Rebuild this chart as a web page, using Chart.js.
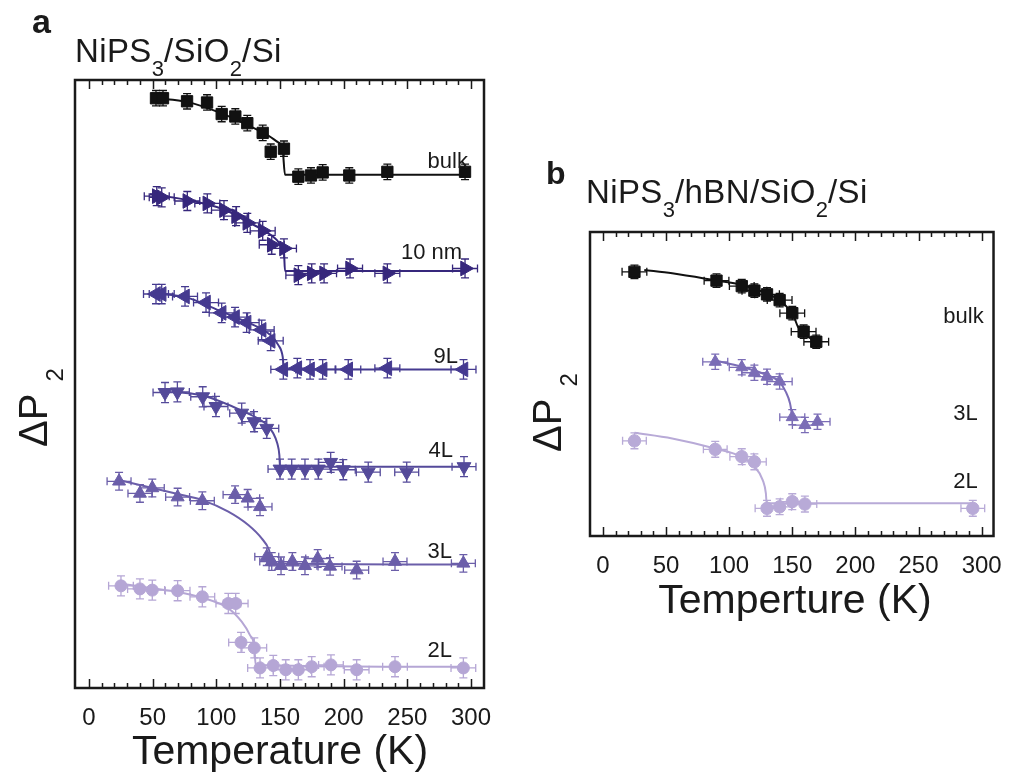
<!DOCTYPE html>
<html lang="en">
<head>
<meta charset="UTF-8">
<title>NiPS3 ΔP2 vs temperature</title>
<script src="https://cdn.jsdelivr.net/npm/chart.js"></script>
<style>
  body {
    margin: 0;
    width: 1010px;
    height: 776px;
    position: relative;
    overflow: hidden;
    background: #fff;
    font-family: Arial, "Liberation Sans", sans-serif;
    color: #1a1a1a;
  }
  .box { position: absolute; top: 0; width: 500px; height: 776px; }
  .txt { position: absolute; line-height: 1; white-space: nowrap; }
  .letter { font-weight: bold; }
  .title { font-size: 33px; letter-spacing: 0.4px; }
  .title span { font-size: 22px; position: relative; top: 14px; letter-spacing: 0; }
  .axis { font-size: 41px; transform: translateX(-50%); }
  .ylab { font-size: 40px; transform-origin: 0 0; transform: rotate(-90deg); }
  .ylab span { font-size: 24px; position: relative; top: 16px; margin-left: 12px; }
</style>
</head>
<body>
<div class="box" style="left:0"><canvas id="chartA"></canvas></div>
<div class="box" style="left:510px"><canvas id="chartB"></canvas></div>

<div class="txt letter" style="left:32px; top:4px; font-size:34px;">a</div>
<div class="txt title" style="left:75px; top:34px;">NiPS<span>3</span>/SiO<span>2</span>/Si</div>
<div class="txt axis" style="left:280px; top:730px;">Temperature (K)</div>
<div class="txt ylab" style="left:13px; top:447px;">ΔP<span>2</span></div>

<div class="txt letter" style="left:546px; top:157px; font-size:32px;">b</div>
<div class="txt title" style="left:586px; top:175px;">NiPS<span>3</span>/hBN/SiO<span>2</span>/Si</div>
<div class="txt axis" style="left:795px; top:579px;">Temperture (K)</div>
<div class="txt ylab" style="left:527px; top:452px;">ΔP<span>2</span></div>

<script>
// shared temperature axis
const xTicks = [0, 50, 100, 150, 200, 250, 300];

// ---- panel a : NiPS3 / SiO2 / Si  (T in K, ΔP2 in arb. units) ----
const aBulkT = [52.6, 58.1, 77, 92.7, 104.2, 114.9, 124.3, 136.4, 142.7, 153.1, 164.4, 174.3, 183.5, 204.4, 234.3, 295.3];
const aBulkP = [97.0, 97.0, 96.5, 96.3, 94.4, 94.0, 92.9, 91.3, 88.2, 88.7, 84.1, 84.3, 84.8, 84.3, 84.9, 84.9];
const aBulkFitT = [52.6, 77.0, 104.2, 124.3, 139.6, 147.4, 152.1, 153.9, 295.3];
const aBulkFitP = [97.0, 96.4, 94.5, 92.6, 91.0, 89.9, 88.5, 84.4, 84.4];

const a10nmT = [53.2, 57.1, 77.2, 92.9, 106, 115.5, 124.3, 136.4, 143.5, 153.1, 164.4, 174.9, 184.6, 205, 234.3, 295.3];
const a10nmP = [80.9, 80.7, 80.1, 79.7, 78.6, 77.6, 76.5, 75.2, 72.9, 72.3, 67.9, 68.2, 68.2, 69.0, 68.2, 69.0];
const a10nmFitT = [47.9, 77.2, 106.0, 124.3, 136.9, 147.4, 152.1, 153.1, 153.9, 295.3];
const a10nmFitP = [81.25, 80.26, 78.7, 76.7, 75.3, 73.7, 72.3, 71.8, 68.6, 68.6];

const a9LT = [52.6, 57.1, 75.4, 91.9, 104.2, 114.7, 123.8, 135.6, 142.7, 152.6, 163.6, 173.6, 183.5, 203.6, 234.3, 294.1];
const a9LP = [64.8, 64.8, 64.4, 63.4, 61.7, 61.0, 60.1, 58.9, 57.1, 52.4, 52.6, 52.4, 52.4, 52.4, 52.6, 52.4];
const a9LFitT = [47.9, 75.4, 104.2, 123.9, 142.2, 148.7, 152.1, 153.1, 294.0];
const a9LFitP = [64.9, 64.3, 61.9, 60.2, 58.1, 56.4, 54.5, 52.4, 52.4];

const a4LT = [59.7, 69.4, 89.3, 99.7, 119.9, 129.6, 139.6, 150, 159.2, 169.6, 180.1, 189.8, 199.7, 219.3, 249.5, 294.5];
const a4LP = [48.6, 48.7, 47.9, 46.3, 45.2, 43.8, 42.7, 36.0, 36.0, 36.0, 36.0, 37.1, 35.9, 35.5, 35.5, 36.4];
const a4LFitT = [69.3, 89.3, 119.9, 139.6, 144.7, 147.9, 149.5, 150.0, 294.5];
const a4LFitP = [48.7, 48.1, 45.6, 43.3, 41.9, 40.2, 38.3, 36.4, 36.4];

const a3LT = [23.6, 40.0, 49.7, 69.6, 89.0, 114.7, 124.6, 134.3, 139.6, 143.5, 150.8, 159.7, 169.6, 179.6, 189.3, 210.2, 240.3, 294.0];
const a3LP = [34.0, 32.0, 32.9, 31.4, 30.8, 31.8, 31.2, 29.8, 21.6, 20.8, 20.1, 20.8, 20.1, 21.3, 20.0, 19.4, 20.8, 20.5];
const a3LFitT = [23.6, 69.7, 89.0, 109.4, 125.1, 135.6, 141.4, 144.0, 294.0];
const a3LFitP = [34.2, 31.9, 30.9, 29.0, 26.8, 24.6, 22.7, 20.5, 20.3];

const a2LT = [25.1, 40, 49.7, 69.6, 89, 109.4, 115.2, 119.4, 129.8, 134.3, 144.7, 154.5, 164.4, 174.9, 190, 210.2, 240.3, 294];
const a2LP = [16.8, 16.3, 16.1, 16.0, 15.0, 13.9, 13.9, 7.5, 6.6, 3.3, 3.7, 3.0, 3.0, 3.5, 3.8, 3.0, 3.5, 3.3];
const a2LFitT = [23.6, 49.7, 69.7, 89.0, 109.4, 119.9, 126.4, 129.8, 130.9, 294.0];
const a2LFitP = [17.2, 16.4, 15.8, 14.85, 13.1, 10.9, 8.7, 6.8, 3.8, 3.5];

// error bar half widths per series: bulk, 10 nm, 9L, 4L, 3L, 2L
const aErrT = [3, 9.8, 9.8, 9.4, 9.4, 9.7];
const aErrP = [1.27, 1.56, 1.6, 1.65, 1.45, 1.65];

const aLabels = ['bulk', '10 nm', '9L', '4L', '3L', '2L'];
const aLabelT = [297.6, 293, 289.8, 285.9, 285.1, 285.1];
const aLabelP = [85.5, 70.6, 53.5, 38.0, 21.4, 5.1];

// ---- panel b : NiPS3 / hBN / SiO2 / Si ----
const bBulkT = [25, 90, 110, 120, 130, 140, 150, 159, 169];
const bBulkP = [86.9, 84.0, 82.2, 80.7, 79.5, 77.6, 73.3, 67.2, 63.9];
const bBulkFitT = [32.8, 54.9, 90.1, 109.6, 129.7, 139.6, 146.1, 151.3, 154.5, 158.6, 169.0];
const bBulkFitP = [87.5, 86.4, 84.0, 82.6, 79.8, 77.6, 75.2, 72.1, 68.8, 66.7, 63.9];

const b3LT = [89, 110, 120, 130, 140, 150, 160, 170];
const b3LP = [57.3, 55.5, 53.7, 52.4, 50.8, 39.1, 36.5, 37.6];
const b3LFitT = [88.8, 109.6, 129.7, 139.6, 144.8, 148.2, 150.0];
const b3LFitP = [57.7, 55.7, 53.0, 50.8, 47.5, 43.7, 39.2];

const b2LT = [25, 89, 110, 120, 130, 140, 150, 160, 293];
const b2LP = [31.3, 28.5, 26.1, 24.4, 9.1, 9.6, 11.3, 10.5, 9.1];
const b2LFitT = [25, 54.9, 88.8, 109.6, 120.1, 126.6, 129.1, 129.7, 293];
const b2LFitP = [34.0, 32.1, 28.8, 26.1, 22.8, 18.4, 14.0, 10.8, 10.8];

// bulk, 3L, 2L
const bErrT = [9.8, 9.9, 9.4];
const bErrP = [2.2, 2.5, 2.6];

const bLabels = ['bulk', '3L', '2L'];
const bLabelT = [301.6, 296.9, 296.9];
const bLabelP = [70.1, 38.2, 15.8];

// colours per layer thickness
const cBulk = '#111111';
const c10nm = '#36277c';
const c9L = '#453a90';
const c4L = '#544a9a';
const c3L = '#6b5ea9';
const c2L = '#b5a6d5';
const c3Lb = '#7b6db6';
const c2Lb = '#b8aad7';

function points(T, P, color, style, rot, radius, eT, eP) {
  return {
    data: T.map((t, i) => ({ x: t, y: P[i] })),
    showLine: false,
    pointStyle: style,
    pointRotation: rot,
    pointRadius: radius,
    pointBackgroundColor: color,
    pointBorderColor: color,
    pointBorderWidth: 1,
    errColor: color,
    errT: eT,
    errP: eP,
    order: 0
  };
}

function fit(T, P, color) {
  return {
    data: T.map((t, i) => ({ x: t, y: P[i] })),
    showLine: true,
    borderColor: color,
    borderWidth: 2,
    pointRadius: 0,
    cubicInterpolationMode: 'monotone',
    order: 1
  };
}

// error bars under the markers, box frame, inward ticks and curve labels
const panelDecor = {
  id: 'panelDecor',
  beforeDatasetsDraw(chart) {
    const ctx = chart.ctx;
    const xs = chart.scales.x, ys = chart.scales.y;
    ctx.save();
    ctx.lineWidth = 1.3;
    chart.data.datasets.forEach(ds => {
      if (ds.errT === undefined) return;
      ctx.strokeStyle = ds.errColor;
      ds.data.forEach(p => {
        const cx = xs.getPixelForValue(p.x), cy = ys.getPixelForValue(p.y);
        const x0 = xs.getPixelForValue(p.x - ds.errT), x1 = xs.getPixelForValue(p.x + ds.errT);
        const y0 = ys.getPixelForValue(p.y - ds.errP), y1 = ys.getPixelForValue(p.y + ds.errP);
        ctx.beginPath();
        ctx.moveTo(x0, cy); ctx.lineTo(x1, cy);
        ctx.moveTo(x0, cy - 4); ctx.lineTo(x0, cy + 4);
        ctx.moveTo(x1, cy - 4); ctx.lineTo(x1, cy + 4);
        ctx.moveTo(cx, y0); ctx.lineTo(cx, y1);
        ctx.moveTo(cx - 4, y0); ctx.lineTo(cx + 4, y0);
        ctx.moveTo(cx - 4, y1); ctx.lineTo(cx + 4, y1);
        ctx.stroke();
      });
    });
    ctx.restore();
  },
  afterDatasetsDraw(chart, args, opts) {
    const ctx = chart.ctx;
    const a = chart.chartArea;
    const xs = chart.scales.x, ys = chart.scales.y;
    ctx.save();
    ctx.strokeStyle = '#1a1a1a';
    ctx.lineWidth = 1.5;
    ctx.beginPath();
    for (let v = xTicks[0]; v <= xTicks[xTicks.length - 1]; v += 10) {
      const px = Math.round(xs.getPixelForValue(v)) + 0.5;
      const len = v % 50 === 0 ? 9 : 5;
      ctx.moveTo(px, a.bottom); ctx.lineTo(px, a.bottom - len);
      ctx.moveTo(px, a.top); ctx.lineTo(px, a.top + len);
    }
    ctx.stroke();
    ctx.lineWidth = 2.5;
    ctx.strokeRect(a.left, a.top, a.right - a.left, a.bottom - a.top);

    ctx.fillStyle = '#1a1a1a';
    ctx.font = '22px Arial, "Liberation Sans", sans-serif';
    ctx.textAlign = 'right';
    ctx.textBaseline = 'alphabetic';
    opts.labels.forEach((s, i) => {
      ctx.fillText(s, xs.getPixelForValue(opts.labelT[i]), ys.getPixelForValue(opts.labelP[i]));
    });
    ctx.restore();
  }
};

function panel(id, datasets, xMin, xMax, pad, axisHeight, labels, labelT, labelP) {
  return new Chart(document.getElementById(id), {
    type: 'scatter',
    data: { datasets },
    options: {
      responsive: true,
      maintainAspectRatio: false,
      animation: false,
      events: [],
      layout: { padding: pad },
      plugins: {
        legend: { display: false },
        tooltip: { enabled: false },
        panelDecor: { labels, labelT, labelP }
      },
      scales: {
        x: {
          type: 'linear',
          min: xMin,
          max: xMax,
          afterBuildTicks: s => { s.ticks = xTicks.map(v => ({ value: v })); },
          afterFit: s => { s.height = axisHeight; },
          grid: { display: false },
          border: { display: false },
          ticks: {
            autoSkip: false,
            maxRotation: 0,
            padding: 8,
            color: '#1a1a1a',
            font: { family: 'Arial, "Liberation Sans", sans-serif', size: 24 }
          }
        },
        y: { display: false, min: 0, max: 100 }
      }
    },
    plugins: [panelDecor]
  });
}

panel('chartA', [
  points(aBulkT, aBulkP, cBulk, 'rect', 0, 8, aErrT[0], aErrP[0]),
  points(a10nmT, a10nmP, c10nm, 'triangle', 90, 8.5, aErrT[1], aErrP[1]),
  points(a9LT, a9LP, c9L, 'triangle', 270, 8.5, aErrT[2], aErrP[2]),
  points(a4LT, a4LP, c4L, 'triangle', 180, 8, aErrT[3], aErrP[3]),
  points(a3LT, a3LP, c3L, 'triangle', 0, 7.5, aErrT[4], aErrP[4]),
  points(a2LT, a2LP, c2L, 'circle', 0, 6, aErrT[5], aErrP[5]),
  fit(aBulkFitT, aBulkFitP, cBulk),
  fit(a10nmFitT, a10nmFitP, c10nm),
  fit(a9LFitT, a9LFitP, c9L),
  fit(a4LFitT, a4LFitP, c4L),
  fit(a3LFitT, a3LFitP, c3L),
  fit(a2LFitT, a2LFitP, c2L)
], -11, 310.2, { left: 75, top: 80, right: 16, bottom: 0 }, 88, aLabels, aLabelT, aLabelP);

panel('chartB', [
  points(bBulkT, bBulkP, cBulk, 'rect', 0, 8, bErrT[0], bErrP[0]),
  points(b3LT, b3LP, c3Lb, 'triangle', 0, 7, bErrT[1], bErrP[1]),
  points(b2LT, b2LP, c2Lb, 'circle', 0, 6.2, bErrT[2], bErrP[2]),
  fit(bBulkFitT, bBulkFitP, cBulk),
  fit(b3LFitT, b3LFitP, c3Lb),
  fit(b2LFitT, b2LFitP, c2Lb)
], -10.2, 309.4, { left: 80, top: 232, right: 11, bottom: 0 }, 240, bLabels, bLabelT, bLabelP);
</script>
</body>
</html>
